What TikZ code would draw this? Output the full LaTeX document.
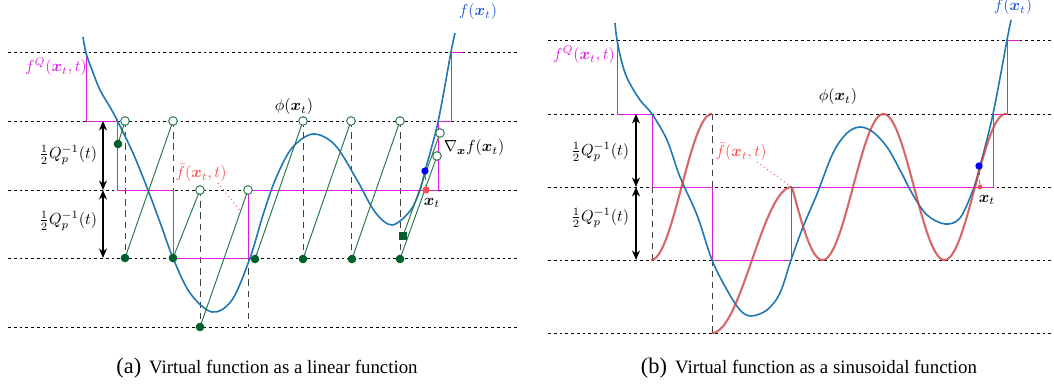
\documentclass[tikz,border=0pt]{standalone}
\usepackage{amsmath,bm}
\usepackage{fontspec}
\newfontfamily\capfont{Liberation Serif}
\usetikzlibrary{arrows.meta}
\definecolor{fblue}{RGB}{31,119,180}
\definecolor{qmag}{RGB}{220,30,220}
\definecolor{lgreen}{RGB}{40,120,70}
\definecolor{dgreen}{RGB}{0,95,45}
\definecolor{vred}{RGB}{205,65,65}
\definecolor{lred}{RGB}{255,80,80}
\definecolor{lblue}{RGB}{30,90,210}
\tikzset{
  hline/.style={dash pattern=on 1.8pt off 1.8pt, line width=0.5pt},
  vline/.style={dash pattern=on 4pt off 3pt, line width=0.6pt, black!75},
  qstep/.style={qmag, line width=0.6pt},
  fcurve/.style={fblue, line width=1pt},
  gline/.style={lgreen, line width=0.6pt},
  vcurve/.style={vred, opacity=0.8, line width=1.3pt},
  fdot/.style={circle, fill=dgreen, inner sep=0pt, minimum size=5.4pt},
  sdot/.style={rectangle, fill=dgreen, inner sep=0pt, minimum size=5pt},
  odot/.style={circle, draw=lgreen, fill=white, line width=0.6pt, inner sep=0pt, minimum size=5.4pt},
  bdot/.style={circle, fill=blue, inner sep=0pt, minimum size=4.6pt},
  rdot/.style={circle, fill=lred, inner sep=0pt, minimum size=4.6pt},
  dbl/.style={{Stealth[length=6pt,width=5pt]}-{Stealth[length=6pt,width=5pt]}, line width=0.8pt},
  lab/.style={inner sep=1pt},
  ptr/.style={lred, dotted, line width=0.6pt},
  tick/.style={black!60, dashed, line width=0.5pt},
}
\begin{document}
\begin{tikzpicture}[x=0.022cm,y=-0.022cm]
\useasboundingbox (0,0) rectangle (1054,387);
% ================= panel (a) =================
\foreach \yy in {52,121,190,258,327} \draw[hline] (8,\yy) -- (518,\yy);
\draw[vline] (125,121) -- (125,258);
\draw[vline] (173,121) -- (173,258);
\draw[vline] (200,190) -- (200,327);
\draw[vline] (248,190) -- (248,327);
\draw[vline] (303,121) -- (303,258);
\draw[vline] (351,121) -- (351,258);
\draw[vline] (400,121) -- (400,258);
\draw[qstep] (86,52) -- (86,121) -- (117,121) -- (117,190) -- (173,190) -- (173,258) -- (248,258) -- (248,190) -- (438,190) -- (438,121) -- (451,121) -- (451,52) -- (463,52);
\draw[fcurve] plot[smooth, tension=0.55] coordinates {(83,37) (86,53) (92,70) (100,90) (110,107) (118,122) (133,153) (148,190) (161,225) (173,258) (190,293) (212,312) (232,300) (250,258) (263,215) (276,178) (292,148) (313,134) (335,145) (357,180) (375,212) (392,225) (410,211) (420,190) (425,171) (438,122) (451,52) (455,33)};
% green sawtooth
\coordinate (d0) at (118,144); \coordinate (o0) at (125,121);
\coordinate (d1) at (125,258); \coordinate (o1) at (173,121);
\coordinate (d2) at (173,258); \coordinate (o2) at (200,190);
\coordinate (d3) at (200,327); \coordinate (o3) at (248,190);
\coordinate (d4) at (255,259); \coordinate (o4) at (303,121);
\coordinate (d5) at (303,259); \coordinate (o5) at (351,121);
\coordinate (d6) at (352,259); \coordinate (o6) at (400,121);
\coordinate (d7) at (400,259); \coordinate (o7) at (437,156);
\coordinate (d8) at (403,236); \coordinate (o8) at (440,133);
\foreach \i in {0,...,8} \draw[gline] (d\i) -- (o\i);
\foreach \i in {0,...,7} \node[fdot] (d\i n) at (d\i) {};
\node[sdot] (d8n) at (d8) {};
\foreach \i in {0,...,8} \node[odot] (o\i n) at (o\i) {};
% x_t
\node[bdot] (fxa) at (425,171) {};
\node[rdot] (xa) at (426,190) {};
\draw[tick] (fxa) -- (xa);
% arrows
\coordinate (ua1) at (103,121); \coordinate (ua2) at (103,190); \coordinate (ua3) at (103,258);
\draw[dbl] (ua1) -- (ua2);
\draw[dbl] (ua2) -- (ua3);
% labels
\node[lab] (qa1) at (68,155) {$\frac{1}{2}Q_p^{-1}(t)$};
\node[lab] (qa2) at (68,221) {$\frac{1}{2}Q_p^{-1}(t)$};
\node[lab, text=qmag] (fqa) at (56,67) {$f^{Q}(\bm{x}_t,t)$};
\node[lab] (phia) at (294,107) {$\phi(\bm{x}_t)$};
\node[lab] (grada) at (474,148) {$\nabla_{\bm{x}} f(\bm{x}_t)$};
\node[lab] (xta) at (432,203) {$\bm{x}_t$};
\node[lab, text=lred] (fbara) at (201,173) {$\bar{f}(\bm{x}_t,t)$};
\node[lab, text=lblue] (fa) at (478,12) {$f(\bm{x}_t)$};
\coordinate (pa0) at (218,183); \coordinate (pa1) at (241,212);
\draw[ptr] (pa0) -- (pa1);
% ================= panel (b) =================
\foreach \yy in {40,114,187,260,333} \draw[hline] (548,\yy) -- (1054,\yy);
\draw[vline] (652,187) -- (652,260);
\draw[vline] (712,114) -- (712,333);
\draw[qstep] (617,40) -- (617,114) -- (652,114) -- (652,187) -- (712,187) -- (712,260) -- (791,260) -- (791,187) -- (993,187) -- (993,114) -- (1007,114) -- (1007,40) -- (1020,40);
\draw[fcurve] plot[smooth, tension=0.55] coordinates {(615,23) (617,40) (622,63) (628,80) (640,100) (652,114) (667,140) (680,177) (697,215) (712,260) (727,290) (740,310) (751,316) (767,310) (780,293) (791,260) (803,227) (817,194) (833,153) (847,133) (860,127) (873,132) (887,147) (900,170) (913,195) (927,215) (945,224) (960,218) (973,190) (980,166) (993,114) (1007,40) (1011,20)};
\draw[vcurve] plot[domain=651:712, samples=40] (\x, {187-73*sin((\x-681.5)*2.95082)});
\draw[vcurve] plot[domain=712:792, samples=40] (\x, {260-73*sin((\x-752)*2.25)});
\draw[vcurve] plot[domain=792:1006.5, samples=120] (\x, {187+73*sin((\x-792)*2.95082)});
\node[bdot] (fxb) at (979,166) {};
\node[rdot, minimum size=3pt] (xb) at (980,187) {};
\draw[tick] (fxb) -- (xb);
\coordinate (ub1) at (636,114); \coordinate (ub2) at (636,187); \coordinate (ub3) at (636,260);
\draw[dbl] (ub1) -- (ub2);
\draw[dbl] (ub2) -- (ub3);
\node[lab] (qb1) at (600,152) {$\frac{1}{2}Q_p^{-1}(t)$};
\node[lab] (qb2) at (600,218) {$\frac{1}{2}Q_p^{-1}(t)$};
\node[lab, text=qmag] (fqb) at (584,55) {$f^{Q}(\bm{x}_t,t)$};
\node[lab] (phib) at (838,97) {$\phi(\bm{x}_t)$};
\node[lab] (xtb) at (987,200) {$\bm{x}_t$};
\node[lab, text=lred] (fbarb) at (741,152) {$\bar{f}(\bm{x}_t,t)$};
\node[lab, text=lblue] (fb) at (1013,7) {$f(\bm{x}_t)$};
\coordinate (pb0) at (757,162); \coordinate (pb1) at (790,186);
\draw[ptr] (pb0) -- (pb1);
% captions
\node[lab, font=\capfont] (capa) at (267,368) {{\fontsize{14}{16}\selectfont(a)}\hspace{5pt}{\fontsize{11.8}{14}\selectfont Virtual function as a linear function}};
\node[lab, font=\capfont] (capb) at (809,368) {{\fontsize{14}{16}\selectfont(b)}\hspace{5pt}{\fontsize{11.8}{14}\selectfont Virtual function as a sinusoidal function}};
\end{tikzpicture}
\end{document}
